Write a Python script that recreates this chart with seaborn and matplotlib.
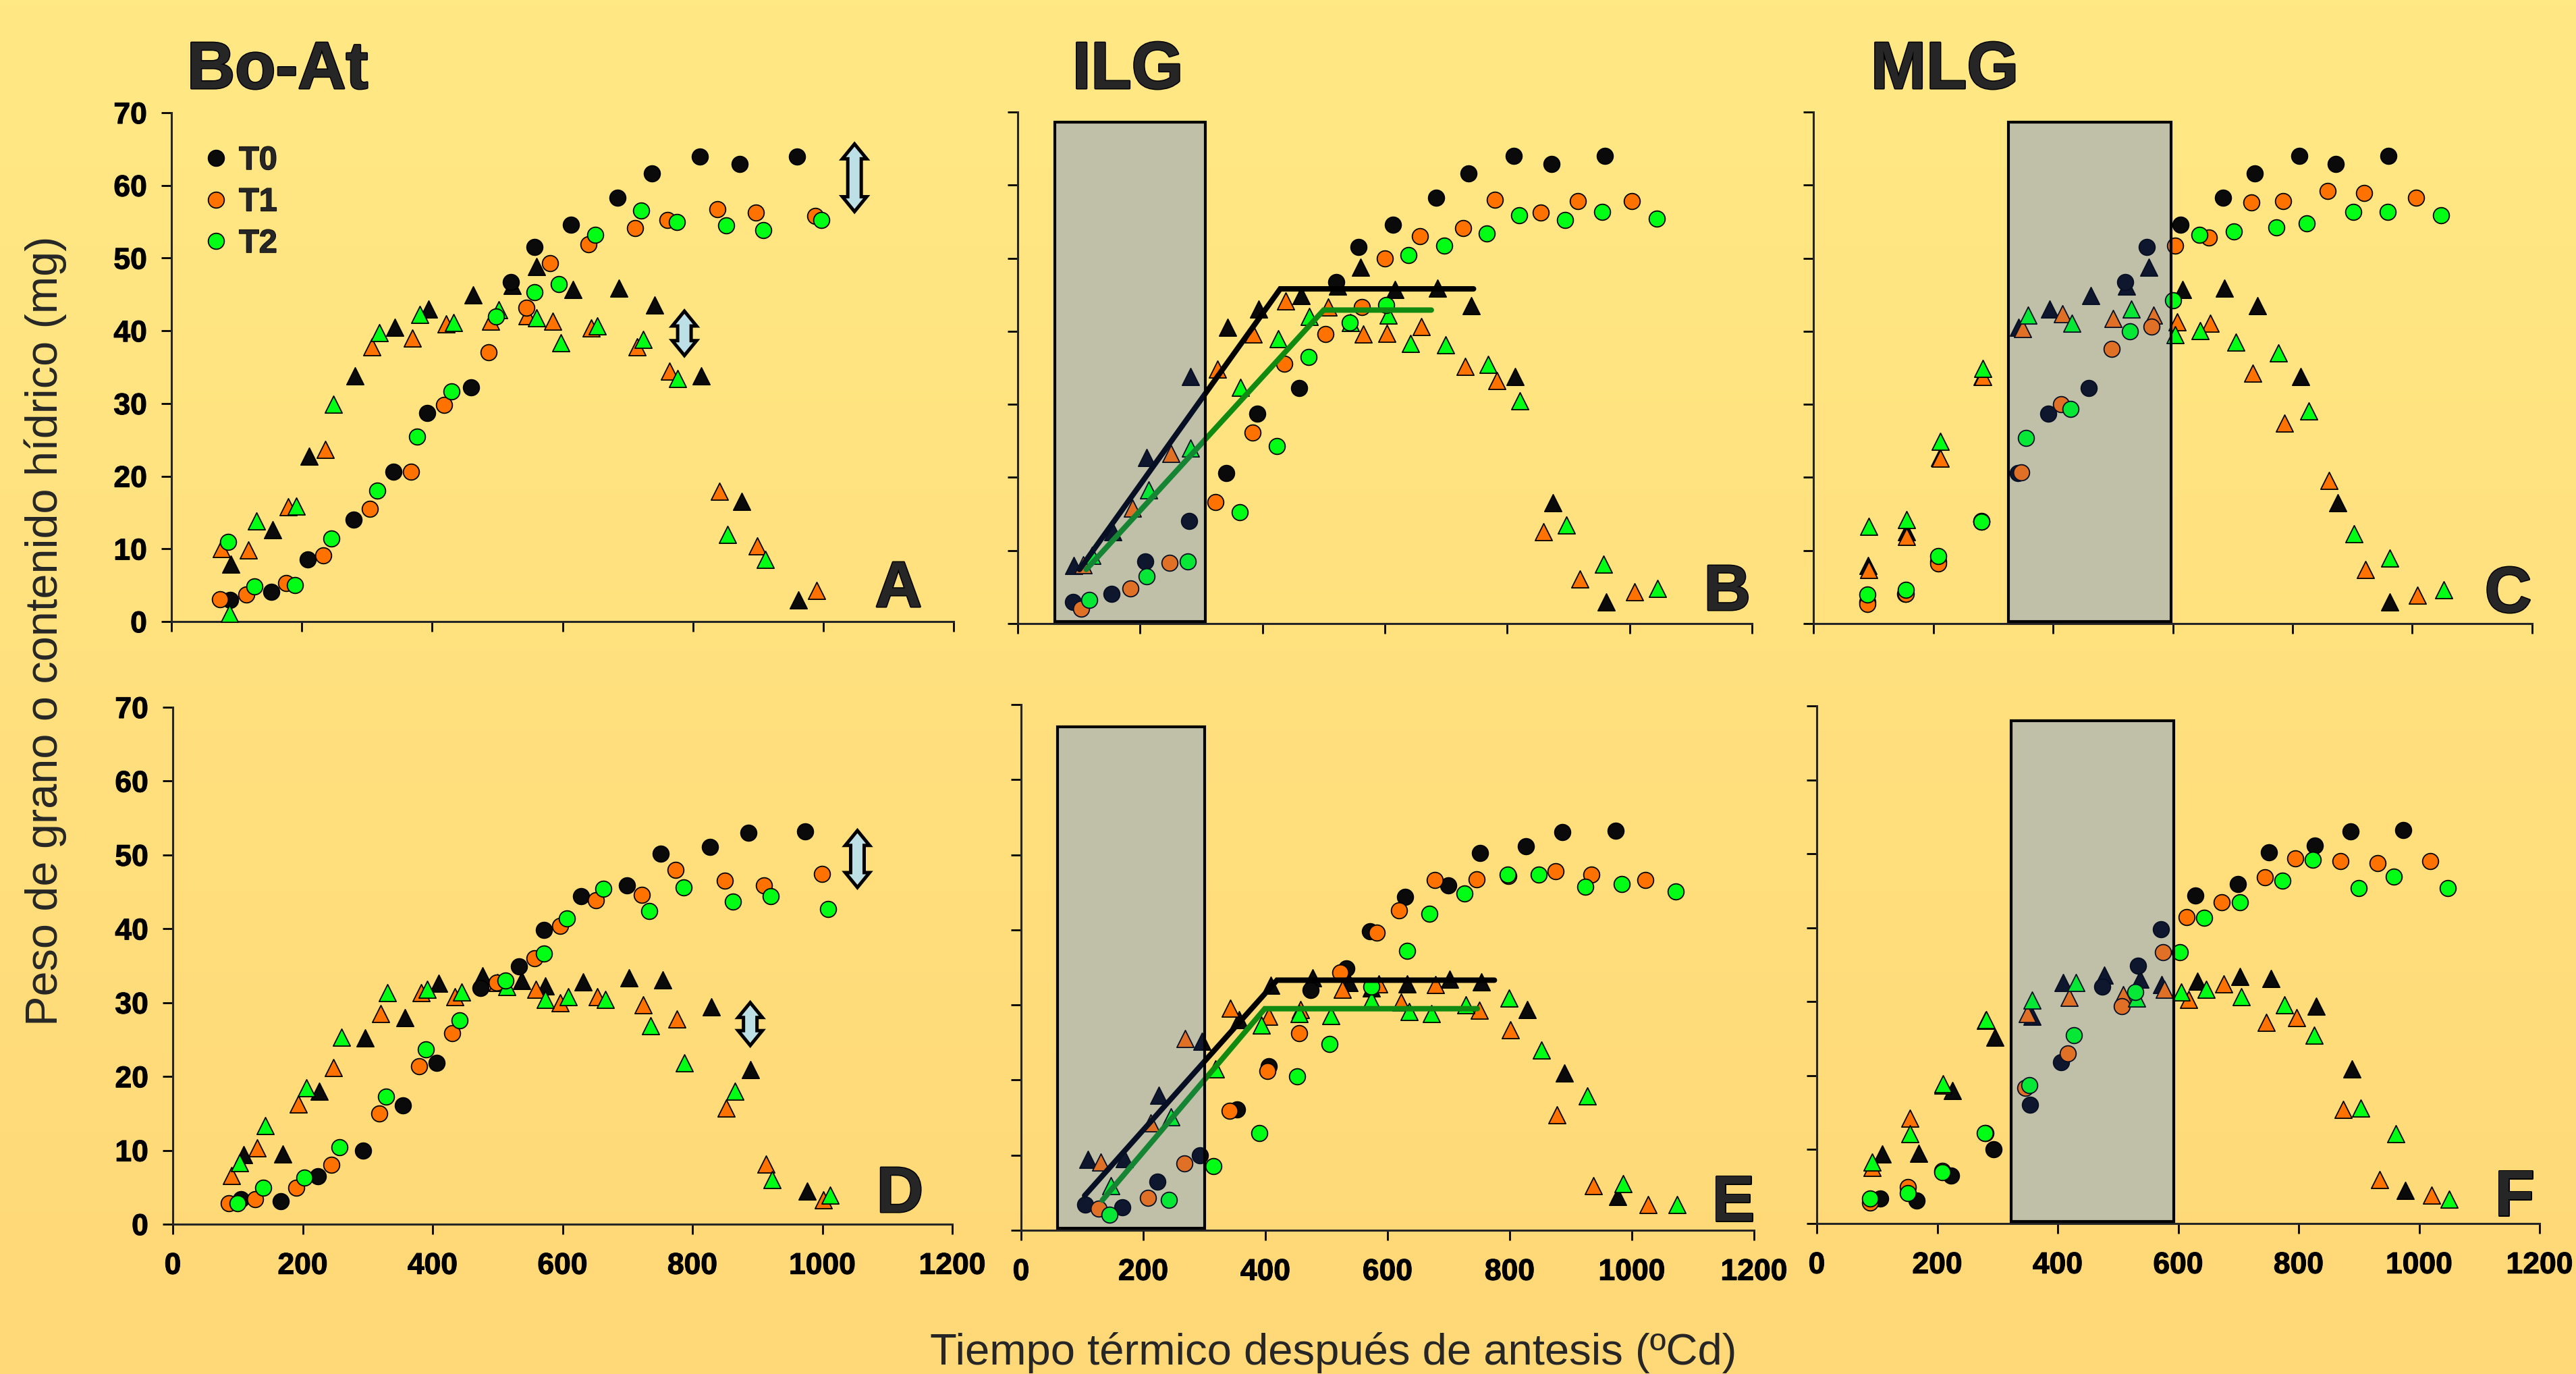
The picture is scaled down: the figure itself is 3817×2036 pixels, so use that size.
import numpy as np
import matplotlib
matplotlib.use("Agg")
import matplotlib.pyplot as plt
import matplotlib.patheffects as pe
import seaborn as sns
from matplotlib.patches import Rectangle, Polygon
from matplotlib.lines import Line2D
from matplotlib.colors import LinearSegmentedColormap

# ---------------- data ----------------
# circles = peso de grano, triangles = contenido hidrico
# T0 is the same control in every panel of a row
t0_peso_x_r1 = [90, 153, 209, 280, 341, 392, 460, 521, 557, 613, 684, 737, 811, 872, 960]
t0_peso_y_r1 = [3.0, 4.1, 8.5, 14.0, 20.6, 28.7, 32.2, 46.7, 51.5, 54.6, 58.3, 61.6, 64.0, 62.9, 64.0]
t0_agua_x_r1 = [91, 155, 211, 282, 343, 394, 463, 523, 560, 616, 686, 741, 813, 875, 962]
t0_agua_y_r1 = [7.9, 12.6, 22.7, 33.8, 40.5, 43.0, 44.9, 46.2, 48.8, 45.7, 45.9, 43.5, 33.8, 16.5, 3.0]

t0_peso_x_r2 = [105, 166, 223, 293, 354, 406, 474, 533, 571, 629, 699, 751, 827, 886, 974]
t0_peso_y_r2 = [3.4, 3.1, 6.5, 10.0, 16.1, 21.8, 32.0, 34.9, 39.8, 44.4, 45.9, 50.2, 51.1, 53.0, 53.2]
t0_agua_x_r2 = [109, 169, 225, 296, 357, 409, 477, 537, 573, 632, 702, 754, 829, 889, 977]
t0_agua_y_r2 = [9.4, 9.5, 18.0, 25.2, 28.0, 32.6, 33.6, 33.0, 32.3, 32.8, 33.4, 33.1, 29.4, 20.9, 4.5]

# panel A (Bo-At, top)
a_t1_peso_x = [75, 115, 176, 233, 304, 368, 418, 487, 545, 581, 640, 711, 761, 838, 897, 988]
a_t1_peso_y = [3.1, 3.7, 5.3, 9.1, 15.5, 20.6, 29.8, 37.0, 43.2, 49.3, 51.9, 54.1, 55.2, 56.7, 56.3, 55.8]
a_t2_peso_x = [87, 127, 189, 245, 316, 377, 430, 498, 557, 594, 650, 721, 775, 851, 908, 997]
a_t2_peso_y = [11.0, 4.8, 5.0, 11.4, 18.0, 25.4, 31.7, 42.0, 45.3, 46.4, 53.2, 56.5, 55.0, 54.5, 53.8, 55.2]
a_t1_agua_x = [77, 118, 179, 236, 307, 370, 421, 490, 546, 585, 644, 714, 764, 841, 899, 990]
a_t1_agua_y = [10.0, 9.8, 15.8, 23.7, 37.8, 39.0, 40.9, 41.3, 42.1, 41.3, 40.4, 37.8, 34.4, 17.9, 10.4, 4.3]
a_t2_agua_x = [89, 130, 192, 248, 319, 381, 433, 502, 560, 597, 653, 724, 777, 853, 911]
a_t2_agua_y = [1.1, 13.8, 15.9, 29.9, 39.7, 42.2, 41.1, 42.9, 41.8, 38.3, 40.7, 38.8, 33.4, 12.0, 8.5]

# panel B (ILG, top)
b_t1_peso_x = [104, 184, 248, 323, 384, 436, 503, 563, 600, 657, 728, 780, 855, 915, 1004]
b_t1_peso_y = [2.0, 4.8, 8.3, 16.6, 26.1, 35.6, 39.6, 43.3, 50.0, 53.0, 54.1, 58.0, 56.2, 57.8, 57.8]
b_t2_peso_x = [117, 211, 278, 363, 423, 475, 543, 602, 639, 697, 766, 819, 894, 955, 1044]
b_t2_peso_y = [3.2, 6.5, 8.5, 15.2, 24.3, 36.5, 41.2, 43.6, 50.4, 51.7, 53.4, 55.9, 55.2, 56.3, 55.4]
b_t1_agua_x = [107, 187, 250, 326, 385, 438, 507, 565, 603, 660, 731, 783, 859, 919, 1008]
b_t1_agua_y = [8.0, 15.8, 23.3, 34.8, 39.6, 44.1, 43.3, 39.6, 39.7, 40.6, 35.2, 33.2, 12.6, 6.1, 4.3]
b_t2_agua_x = [121, 214, 282, 364, 426, 477, 544, 606, 642, 699, 769, 821, 897, 957, 1046]
b_t2_agua_y = [9.3, 18.3, 24.0, 32.3, 39.0, 42.0, 41.2, 42.2, 38.3, 38.1, 35.5, 30.5, 13.5, 8.1, 4.8]

# panel C (MLG, top)
c_t1_peso_x = [90, 154, 209, 281, 347, 414, 498, 564, 604, 660, 731, 784, 859, 919, 1006]
c_t1_peso_y = [2.7, 4.1, 8.2, 13.9, 20.7, 30.0, 37.6, 40.6, 51.7, 52.8, 57.6, 57.8, 59.2, 58.9, 58.3]
c_t2_peso_x = [90, 154, 209, 281, 355, 429, 528, 601, 644, 702, 773, 824, 901, 959, 1048]
c_t2_peso_y = [4.0, 4.6, 9.2, 13.9, 25.4, 29.4, 40.0, 44.2, 53.2, 53.7, 54.2, 54.8, 56.3, 56.3, 55.9]
c_t1_agua_x = [92, 156, 212, 283, 349, 416, 500, 568, 607, 663, 734, 787, 861, 922, 1009]
c_t1_agua_y = [7.4, 11.9, 22.6, 33.8, 40.4, 42.4, 41.7, 42.2, 41.3, 41.1, 34.3, 27.4, 19.6, 7.4, 3.9]
c_t2_agua_x = [92, 156, 212, 283, 358, 432, 531, 604, 646, 705, 776, 827, 903, 962, 1052]
c_t2_agua_y = [13.3, 14.2, 24.9, 34.9, 42.2, 41.1, 43.0, 39.5, 40.1, 38.5, 37.0, 29.1, 12.3, 9.0, 4.6]

# panel D (Bo-At, bottom)
d_t1_peso_x = [86, 127, 190, 244, 318, 379, 430, 499, 557, 596, 651, 722, 774, 850, 910, 999]
d_t1_peso_y = [2.8, 3.4, 4.9, 8.0, 15.0, 21.4, 25.9, 32.7, 36.0, 40.4, 43.9, 44.6, 48.0, 46.5, 45.9, 47.4]
d_t2_peso_x = [100, 139, 203, 257, 328, 390, 442, 512, 571, 607, 663, 734, 786, 862, 920, 1009]
d_t2_peso_y = [2.8, 4.9, 6.3, 10.4, 17.3, 23.7, 27.6, 33.0, 36.6, 41.4, 45.4, 42.4, 45.6, 43.7, 44.4, 42.7]
d_t1_agua_x = [90, 130, 193, 247, 320, 382, 434, 500, 559, 596, 654, 724, 776, 852, 913, 1002]
d_t1_agua_y = [6.6, 10.3, 16.3, 21.2, 28.5, 31.3, 30.8, 32.7, 31.8, 30.0, 30.8, 29.7, 27.8, 15.7, 8.1, 3.3]
d_t2_agua_x = [103, 142, 206, 260, 330, 392, 445, 514, 573, 609, 666, 736, 788, 865, 923, 1012]
d_t2_agua_y = [8.3, 13.3, 18.5, 25.3, 31.3, 31.8, 31.4, 32.2, 30.4, 30.8, 30.4, 26.9, 21.8, 18.0, 6.0, 3.9]

# panel E (ILG, bottom)
e_t1_peso_x = [127, 208, 267, 341, 403, 455, 523, 582, 619, 677, 746, 798, 875, 934, 1022]
e_t1_peso_y = [2.9, 4.3, 8.9, 15.9, 21.2, 26.2, 34.3, 39.6, 42.6, 46.6, 46.7, 47.2, 47.8, 47.4, 46.6]
e_t2_peso_x = [145, 242, 315, 390, 452, 505, 573, 632, 669, 726, 797, 848, 924, 983, 1072]
e_t2_peso_y = [2.1, 4.0, 8.5, 12.9, 20.5, 24.8, 32.4, 37.2, 42.1, 44.8, 47.4, 47.4, 45.7, 46.1, 45.1]
e_t1_agua_x = [130, 212, 269, 343, 406, 457, 526, 586, 622, 679, 750, 801, 877, 937, 1026]
e_t1_agua_y = [9.1, 14.3, 25.5, 29.6, 28.5, 29.4, 32.1, 32.8, 30.4, 32.7, 29.3, 26.7, 15.4, 5.9, 3.4]
e_t2_agua_x = [147, 245, 318, 393, 455, 507, 574, 635, 672, 728, 799, 852, 927, 986, 1074]
e_t2_agua_y = [5.9, 15.1, 21.5, 27.3, 28.8, 28.6, 30.6, 29.1, 28.8, 30.0, 30.9, 24.0, 17.9, 6.2, 3.4]

# panel F (MLG, bottom)
f_t1_peso_x = [89, 151, 208, 280, 346, 417, 506, 575, 614, 672, 744, 794, 870, 931, 1018]
f_t1_peso_y = [2.8, 4.9, 7.1, 12.2, 18.3, 23.0, 29.4, 36.7, 41.4, 43.4, 46.8, 49.4, 49.0, 48.7, 49.0]
f_t2_peso_x = [89, 151, 208, 279, 353, 427, 529, 603, 643, 702, 773, 823, 900, 958, 1048]
f_t2_peso_y = [3.4, 4.1, 6.9, 12.2, 18.7, 25.5, 31.3, 36.7, 41.3, 43.4, 46.4, 49.2, 45.4, 46.9, 45.4]
f_t1_agua_x = [92, 155, 209, 280, 350, 419, 509, 577, 617, 676, 746, 797, 874, 934, 1021]
f_t1_agua_y = [7.6, 14.2, 18.7, 27.5, 28.4, 30.6, 30.9, 31.7, 30.3, 32.4, 27.2, 27.8, 15.4, 5.9, 3.8]
f_t2_agua_x = [92, 155, 209, 281, 357, 430, 531, 605, 647, 705, 777, 826, 903, 961, 1050]
f_t2_agua_y = [8.3, 12.1, 18.9, 27.6, 30.2, 32.6, 30.5, 31.3, 31.7, 30.7, 29.6, 25.5, 15.6, 12.1, 3.3]

# fitted bilinear lines (ILG panels): breakpoints x, y
b_fit_t0_x = [101, 429, 745]
b_fit_t0_y = [7.4, 45.8, 45.8]
b_fit_t2_x = [112, 500, 676]
b_fit_t2_y = [7.4, 42.9, 42.9]
e_fit_t0_x = [104, 419, 775]
e_fit_t0_y = [4.6, 33.3, 33.3]
e_fit_t2_x = [133, 399, 747]
e_fit_t2_y = [4.0, 29.5, 29.5]

# shaded treatment windows (x0, x1, ytop)
b_window = (61, 307, 68.6)
c_window = (326, 597, 68.6)
e_window = (60, 301, 67.0)
f_window = (323, 593, 68.0)

# double arrows: (x, y_low, y_high)
a_arrows = [(1048, 56.4, 65.7), (787, 36.6, 42.7)]
d_arrows = [(1054, 45.6, 53.3), (889, 24.2, 30.0)]

x_ticks = [0, 200, 400, 600, 800, 1000, 1200]
y_ticks = [0, 10, 20, 30, 40, 50, 60, 70]
legend_labels = ["T0", "T1", "T2"]

# ---------------- style ----------------
sns.set_style("ticks")
plt.rcParams["font.family"] = ["Liberation Sans", "DejaVu Sans"]

C_T0 = "#0A0A0A"
C_T1 = "#FF7200"
C_T2 = "#00FF14"
S_CIRC = 290
S_TRI = 330
HEAVY = [pe.withStroke(linewidth=2.2, foreground="black")]

W, H = 3817, 2036
fig = plt.figure(figsize=(W / 100, H / 100), dpi=100)

# yellow gradient background
bg = fig.add_axes([0, 0, 1, 1], zorder=-10)
bg.imshow(np.linspace(0, 1, 256).reshape(-1, 1), aspect="auto", extent=[0, 1, 0, 1],
          cmap=LinearSegmentedColormap.from_list("bg", ["#FFE985", "#FFD877"]))
bg.axis("off")


def make_ax(l, r, t, b):
    ax = fig.add_axes([l / W, 1 - b / H, (r - l) / W, (b - t) / H])
    ax.set_facecolor("none")
    ax.set_xlim(0, 1200)
    ax.set_ylim(0, 70)
    ax.set_xticks(x_ticks)
    ax.set_yticks(y_ticks)
    sns.despine(ax=ax)
    for s in ["left", "bottom"]:
        ax.spines[s].set_linewidth(2.2)
    ax.tick_params(direction="out", length=11, width=2, labelsize=32, colors="black")
    ax.tick_params(axis="y", pad=15)
    ax.tick_params(axis="x", pad=19)
    for lab in ax.get_xticklabels() + ax.get_yticklabels():
        lab.set_fontweight("bold")
        lab.set_path_effects([pe.withStroke(linewidth=0.8, foreground="black")])
    return ax


def points(ax, x, y, color, marker, s):
    sns.scatterplot(x=x, y=y, ax=ax, color=color, marker=marker, s=s,
                    edgecolor="black", linewidth=1.3, zorder=3, clip_on=False, legend=False)


def window(ax, win):
    x0, x1, top = win
    ax.add_patch(Rectangle((x0, 0.3), x1 - x0, top - 0.3, facecolor="#D9D099",
                           edgecolor="none", zorder=1))
    ax.add_patch(Rectangle((x0, 0.3), x1 - x0, top - 0.3,
                           facecolor=(0.196, 0.404, 1.0, 0.15), edgecolor="black",
                           linewidth=3, zorder=6))


def double_arrow(ax, x, y0, y1, shaft=20, head=36, hl=22):
    tr = ax.transData
    px, p0 = tr.transform((x, y0))
    _, p1 = tr.transform((x, y1))
    pts = [(px, p1), (px + head / 2, p1 - hl), (px + shaft / 2, p1 - hl),
           (px + shaft / 2, p0 + hl), (px + head / 2, p0 + hl), (px, p0),
           (px - head / 2, p0 + hl), (px - shaft / 2, p0 + hl),
           (px - shaft / 2, p1 - hl), (px - head / 2, p1 - hl)]
    ax.add_patch(Polygon(tr.inverted().transform(pts), closed=True, facecolor="#BDE0E6",
                         edgecolor="black", linewidth=3.6, joinstyle="miter", zorder=5))


panels = [
    dict(box=(254, 1413, 167, 921), r=1,
         t1=(a_t1_peso_x, a_t1_peso_y, a_t1_agua_x, a_t1_agua_y),
         t2=(a_t2_peso_x, a_t2_peso_y, a_t2_agua_x, a_t2_agua_y)),
    dict(box=(1508, 2596, 166, 924), r=1,
         t1=(b_t1_peso_x, b_t1_peso_y, b_t1_agua_x, b_t1_agua_y),
         t2=(b_t2_peso_x, b_t2_peso_y, b_t2_agua_x, b_t2_agua_y)),
    dict(box=(2687, 3752, 166, 924), r=1,
         t1=(c_t1_peso_x, c_t1_peso_y, c_t1_agua_x, c_t1_agua_y),
         t2=(c_t2_peso_x, c_t2_peso_y, c_t2_agua_x, c_t2_agua_y)),
    dict(box=(256, 1411, 1048, 1814), r=2,
         t1=(d_t1_peso_x, d_t1_peso_y, d_t1_agua_x, d_t1_agua_y),
         t2=(d_t2_peso_x, d_t2_peso_y, d_t2_agua_x, d_t2_agua_y)),
    dict(box=(1513, 2599, 1044, 1823), r=2,
         t1=(e_t1_peso_x, e_t1_peso_y, e_t1_agua_x, e_t1_agua_y),
         t2=(e_t2_peso_x, e_t2_peso_y, e_t2_agua_x, e_t2_agua_y)),
    dict(box=(2692, 3763, 1046, 1813), r=2,
         t1=(f_t1_peso_x, f_t1_peso_y, f_t1_agua_x, f_t1_agua_y),
         t2=(f_t2_peso_x, f_t2_peso_y, f_t2_agua_x, f_t2_agua_y)),
]

axes = []
for i, p in enumerate(panels):
    ax = make_ax(*p["box"])
    if p["r"] == 1:
        t0 = (t0_peso_x_r1, t0_peso_y_r1, t0_agua_x_r1, t0_agua_y_r1)
    else:
        t0 = (t0_peso_x_r2, t0_peso_y_r2, t0_agua_x_r2, t0_agua_y_r2)
    for data, col in [(t0, C_T0), (p["t1"], C_T1), (p["t2"], C_T2)]:
        points(ax, data[2], data[3], col, "^", S_TRI)
        points(ax, data[0], data[1], col, "o", S_CIRC)
    if i % 3 != 0:
        ax.set_yticklabels([])
    if p["r"] == 1:
        ax.set_xticklabels([])
    axes.append(ax)

ax_a, ax_b, ax_c, ax_d, ax_e, ax_f = axes

window(ax_b, b_window)
window(ax_c, c_window)
window(ax_e, e_window)
window(ax_f, f_window)

for ax, fx0, fy0, fx2, fy2 in [(ax_b, b_fit_t0_x, b_fit_t0_y, b_fit_t2_x, b_fit_t2_y),
                               (ax_e, e_fit_t0_x, e_fit_t0_y, e_fit_t2_x, e_fit_t2_y)]:
    ax.plot(fx0, fy0, color="black", lw=5.8, zorder=4, solid_joinstyle="miter")
    ax.plot(fx2, fy2, color="#108A10", lw=5.8, zorder=4, solid_joinstyle="miter")

for x, y0, y1 in a_arrows:
    double_arrow(ax_a, x, y0, y1)
for x, y0, y1 in d_arrows:
    double_arrow(ax_d, x, y0, y1)

# legend (panel A)
handles = [Line2D([], [], marker="o", ls="", markerfacecolor=c, markeredgecolor="black",
                  markersize=17, markeredgewidth=1.3) for c in [C_T0, C_T1, C_T2]]
leg = ax_a.legend(handles, legend_labels, loc="upper left", bbox_to_anchor=(0.036, 0.935),
                  frameon=False, borderpad=0, borderaxespad=0, handlelength=1.0,
                  handletextpad=0.2, labelspacing=0.34,
                  prop=dict(family="Liberation Sans", weight="bold", size=35))
for t in leg.get_texts():
    t.set_path_effects([pe.withStroke(linewidth=1.0, foreground="black")])

# titles and panel letters
for txt, xpx in [("Bo-At", 277), ("ILG", 1589), ("MLG", 2772)]:
    fig.text(xpx / W, 1 - 131 / H, txt, fontsize=71, fontweight="bold",
             ha="left", va="baseline", path_effects=HEAVY)
for txt, xpx, ypx in [("A", 1366, 899), ("B", 2594, 904), ("C", 3751, 907),
                      ("D", 1368, 1796), ("E", 2600, 1809), ("F", 3755, 1801)]:
    fig.text(xpx / W, 1 - ypx / H, txt, fontsize=69, fontweight="bold",
             ha="right", va="baseline", path_effects=HEAVY)

fig.text(67 / W, 1 - 935 / H, "Peso de grano o contenido hídrico (mg)", rotation=90,
         fontsize=48, ha="center", va="center")
fig.text(1976 / W, 1 - 2022 / H, "Tiempo térmico después de antesis (ºCd)",
         fontsize=47, ha="center", va="baseline")

plt.savefig("out.png", dpi=100)
